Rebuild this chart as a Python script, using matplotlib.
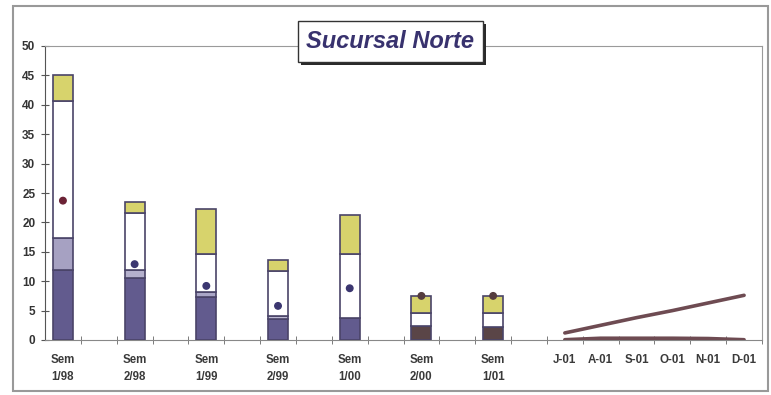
import matplotlib
matplotlib.use('Agg')
import matplotlib.pyplot as plt
import numpy as np
from matplotlib.patches import Rectangle

# Semester bars (stacked segments) and monthly lines
sem_labels = ['Sem\n1/98', 'Sem\n2/98', 'Sem\n1/99', 'Sem\n2/99', 'Sem\n1/00', 'Sem\n2/00', 'Sem\n1/01']
base_seg = [11.9, 10.5, 7.3, 3.5, 3.7, 2.4, 2.2]
light_seg = [5.4, 1.4, 0.9, 0.5, 0.0, 0.0, 0.0]
white_seg = [23.4, 9.7, 6.4, 7.8, 10.9, 2.2, 2.4]
yellow_seg = [4.4, 1.8, 7.7, 1.8, 6.7, 2.9, 2.9]
dot_vals = [23.7, 12.9, 9.2, 5.8, 8.8, 7.5, 7.5]

month_labels = ['J-01', 'A-01', 'S-01', 'O-01', 'N-01', 'D-01']
line_up = [1.2, 2.5, 3.8, 5.0, 6.3, 7.6]
line_low = [0.05, 0.3, 0.3, 0.3, 0.25, 0.05]

yticks = [0, 5, 10, 15, 20, 25, 30, 35, 40, 45, 50]

# colours
purple = '#625b8e'
brown = '#5a4547'
base_colors = [purple] * 5 + [brown] * 2
light_colors = ['#a6a1c2', '#b4b0cc', '#aaa6c6', '#bdb9d3', purple, brown, brown]
yellow = '#d7d36c'
edge = '#4a4468'
dot_colors = ['#6b2235'] + ['#3b3670'] * 4 + ['#553c3e'] * 2
line_col = '#6e4b52'

plt.rcParams['font.family'] = ['Liberation Sans Narrow', 'Liberation Sans', 'DejaVu Sans']

fig = plt.figure(figsize=(7.71, 3.95), dpi=100)
ax = fig.add_axes([45/771, 1 - 340/395, (762 - 45)/771, (340 - 46)/395])

x_sem = np.arange(len(sem_labels)) * 2
x_mon = np.arange(len(month_labels)) + 14
w = 0.56

b0 = np.zeros(len(sem_labels))
for seg, cols in [(base_seg, base_colors), (light_seg, light_colors),
                  (white_seg, ['white'] * 7), (yellow_seg, [yellow] * 7)]:
    ax.bar(x_sem, seg, w, bottom=b0, color=cols, edgecolor=edge, linewidth=1.2, zorder=3)
    b0 = b0 + np.array(seg)

ax.scatter(x_sem, dot_vals, s=22, c=dot_colors, zorder=5)

ax.plot(x_mon, line_up, color=line_col, lw=2.6, solid_capstyle='round', zorder=4)
ax.plot(x_mon, line_low, color=line_col, lw=2.6, solid_capstyle='round', zorder=4)

ax.set_xlim(-0.5, 19.45)
ax.set_ylim(0, 50)
ax.set_yticks(yticks)
ax.set_xticks(list(x_sem) + list(x_mon))
ax.set_xticklabels(sem_labels + month_labels, linespacing=1.55)
ax.set_xticks(np.arange(0.5, 20, 1.0), minor=True)

ax.tick_params(axis='x', which='major', length=0, pad=10, labelsize=8.3, labelcolor='#3a3a3a')
ax.tick_params(axis='x', which='minor', direction='inout', length=6, color='#666666')
ax.tick_params(axis='y', direction='inout', length=6, color='#555555',
               labelsize=8.5, labelcolor='#333333', pad=4)
for lab in ax.get_xticklabels() + ax.get_yticklabels():
    lab.set_fontweight('bold')

for s in ['top', 'right']:
    ax.spines[s].set_color('#9a9a9a')
ax.spines['left'].set_color('#555555')
ax.spines['bottom'].set_color('#888888')

# outer frame
fig.patches.append(Rectangle((13/771, 1 - 391/395), (768 - 13)/771, (391 - 6)/395,
                             transform=fig.transFigure, fill=False,
                             edgecolor='#999999', lw=1.5, zorder=1))

# title box with shadow
bx, by, bw, bh = 298/771, 1 - 62/395, 185/771, 41/395
fig.patches.append(Rectangle((bx + 3/771, by - 3/395), bw, bh, transform=fig.transFigure,
                             facecolor='#2a2a2a', edgecolor='none', zorder=5))
fig.patches.append(Rectangle((bx, by), bw, bh, transform=fig.transFigure,
                             facecolor='white', edgecolor='#333333', lw=1, zorder=6))
fig.text(bx + bw/2, by + bh/2, 'Sucursal Norte', ha='center', va='center',
         fontsize=17, fontweight='bold', fontstyle='italic', color='#38326e',
         family=['Liberation Sans', 'DejaVu Sans'], zorder=7)

fig.savefig('out.png', dpi=100)
